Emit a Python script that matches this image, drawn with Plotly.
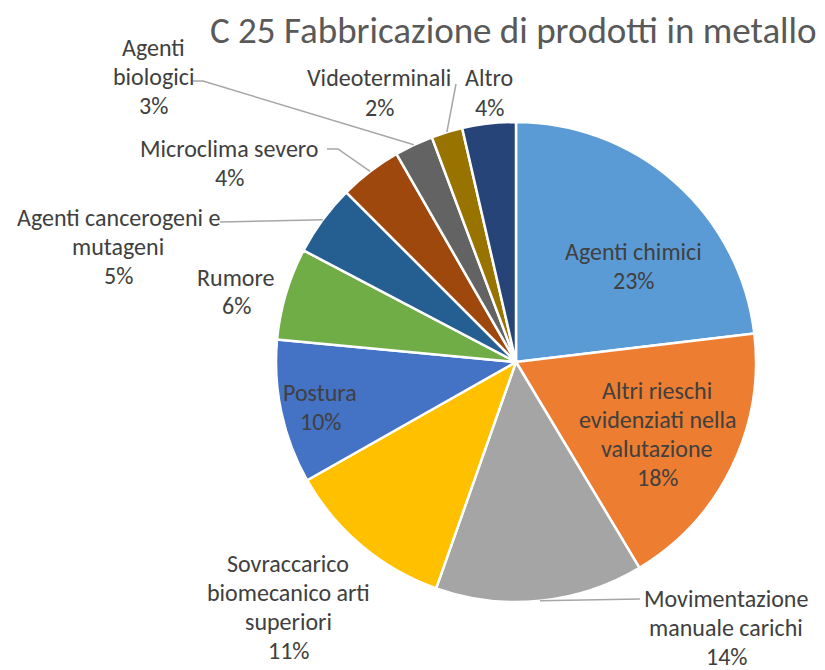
import math
import plotly.graph_objects as go

W, H = 825, 670

title = "C 25 Fabbricazione di prodotti in metallo"
categories = [
    "Agenti chimici",
    "Altri rieschi evidenziati nella valutazione",
    "Movimentazione manuale carichi",
    "Sovraccarico biomecanico arti superiori",
    "Postura",
    "Rumore",
    "Agenti cancerogeni e mutageni",
    "Microclima severo",
    "Agenti biologici",
    "Videoterminali",
    "Altro",
]
values = [23.1, 18.3, 14.0, 11.4, 9.7, 6.2, 4.8, 4.2, 2.6, 2.1, 3.6]
label_lines = [
    ["Agenti chimici"],
    ["Altri rieschi", "evidenziati nella", "valutazione"],
    ["Movimentazione", "manuale carichi"],
    ["Sovraccarico", "biomecanico arti", "superiori"],
    ["Postura"],
    ["Rumore"],
    ["Agenti cancerogeni e", "mutageni"],
    ["Microclima severo"],
    ["Agenti", "biologici"],
    ["Videoterminali"],
    ["Altro"],
]
colors = ["#5B9BD5", "#ED7D31", "#A5A5A5", "#FFC000", "#4472C4", "#70AD47",
          "#255E91", "#9E480E", "#636363", "#997300", "#264478"]

# layout (pixel positions of label blocks: centre x, centre y of first line)
label_pos = [(633, 251), (657, 390), (726, 598), (288, 563), (320, 392),
             (236, 277), (118, 217), (229, 148), (153, 47), (379, 78), (489, 78)]
# leader line label-side points (None = no leader)
leader_pts = [None, None, [(640, 599)], None, None, None, [(220, 222)],
              [(327, 149), (338, 149)], [(193, 81), (203, 81)], [(456, 84)], None]

CX, CY, R = 516, 362, 240
LINE_H = 29
FONT = "Carlito, Lato, sans-serif"


def px(x, y):
    return x / W, 1 - y / H


fig = go.Figure()
fig.add_trace(go.Pie(
    labels=categories, values=values, sort=False, direction="clockwise",
    rotation=0, textinfo="none", textposition="none",
    marker=dict(colors=colors, line=dict(color="white", width=2.5)),
    domain=dict(x=[(CX - R) / W, (CX + R) / W], y=[1 - (CY + R) / H, 1 - (CY - R) / H]),
    showlegend=False, hoverinfo="label+percent",
))

total = sum(values)
annotations = []
shapes = []
cum = 0
for i, v in enumerate(values):
    pct = round(100 * v / total)
    lines = label_lines[i] + [f"{pct}%"]
    lx, ly = label_pos[i]
    for k, t in enumerate(lines):
        ax, ay = px(lx, ly + k * LINE_H)
        annotations.append(dict(text=t, x=ax, y=ay, xref="paper", yref="paper",
                                xanchor="center", yanchor="middle", showarrow=False,
                                font=dict(family=FONT, size=24, color="#404040")))
    mid = (cum + v / 2) / total * 2 * math.pi
    cum += v
    if leader_pts[i]:
        ex = CX + R * math.sin(mid)
        ey = CY - R * math.cos(mid)
        pts = leader_pts[i] + [(ex, ey)]
        path = "M " + " L ".join(f"{px(x, y)[0]},{px(x, y)[1]}" for x, y in pts)
        shapes.append(dict(type="path", path=path, xref="paper", yref="paper",
                           line=dict(color="#A6A6A6", width=1.5)))

tx, ty = px(513, 30)
annotations.append(dict(text=title, x=tx, y=ty, xref="paper", yref="paper",
                        xanchor="center", yanchor="middle", showarrow=False,
                        font=dict(family=FONT, size=37, color="#595959")))

fig.update_layout(width=W, height=H, margin=dict(l=0, r=0, t=0, b=0),
                  paper_bgcolor="white", plot_bgcolor="white",
                  annotations=annotations, shapes=shapes)
fig.write_html("out.html", config={"displayModeBar": False},
               post_script="document.body.style.margin='0';")
